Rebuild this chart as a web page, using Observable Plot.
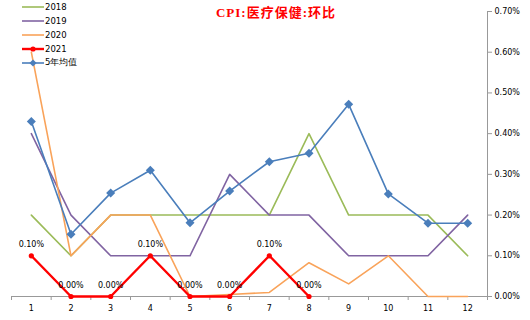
<!DOCTYPE html>
<html><head><meta charset="utf-8">
<script src="https://cdn.jsdelivr.net/npm/d3@7"></script>
<script src="https://cdn.jsdelivr.net/npm/@observablehq/plot@0.6"></script>
<style>
body{margin:0;background:#fff}
#wrap{position:relative;width:530px;height:320px;overflow:hidden}
#title{position:absolute;left:0;width:552px;top:2px;text-align:center;color:#ff0000;font:bold 13px "Liberation Serif","Noto Sans CJK SC",serif;letter-spacing:1px}
#legend{position:absolute;left:22px;top:0px;font:8.5px "DejaVu Sans",sans-serif;color:#000}
.row{display:flex;align-items:center;height:14px}
.row svg{display:block;margin-right:1px}
</style></head><body><div id="wrap"><div id="title">CPI:医疗保健:环比</div><div id="legend"></div></div>
<script>
const months = [1,2,3,4,5,6,7,8,9,10,11,12];
const seriesNames = ["2018","2019","2020","2021","5年均值"];
const v2018 = [0.2,0.1,0.2,0.2,0.2,0.2,0.2,0.4,0.2,0.2,0.2,0.1];
const v2019 = [0.4,0.2,0.1,0.1,0.1,0.3,0.2,0.2,0.1,0.1,0.1,0.2];
const v2020 = [0.6,0.1,0.2,0.2,0.0,0.005,0.01,0.083,0.031,0.1,0.0,0.0];
const v2021 = [0.1,0.0,0.0,0.1,0.0,0.0,0.1,0.0];
const vAvg  = [0.43,0.153,0.254,0.31,0.181,0.259,0.331,0.352,0.472,0.252,0.18,0.18];
const yTicks = [0,0.1,0.2,0.3,0.4,0.5,0.6,0.7];
const colors = ["#9bbb59","#8064a2","#f9a35a","#ff0000","#4a7ebb"];

const allVals = [v2018,v2019,v2020,v2021,vAvg];
const data = [];
allVals.forEach((arr,i)=>arr.forEach((v,j)=>data.push({series:seriesNames[i],month:months[j],value:v})));
const sel = s => data.filter(d=>d.series===s);
const fmt = d => d.toFixed(2)+"%";
const bounds = d3.range(0.5,13,1);
const squareDiamond = {draw(ctx,size){const r=Math.sqrt(size/2);ctx.moveTo(0,-r);ctx.lineTo(r,0);ctx.lineTo(0,r);ctx.lineTo(-r,0);ctx.closePath();}};

const chart = Plot.plot({
  width:530, height:320,
  marginLeft:11, marginRight:43, marginTop:11, marginBottom:24,
  style:{fontFamily:"DejaVu Sans, sans-serif", fontSize:"8px", background:"#fff", color:"#000"},
  x:{type:"linear", domain:[0.5,12.5]},
  y:{domain:[0,0.7]},
  marks:[
    Plot.ruleY([0],{stroke:"#999",strokeWidth:1}),
    Plot.ruleX([12.5],{stroke:"#999",strokeWidth:1}),
    Plot.axisY({anchor:"right",ticks:yTicks,tickSize:4,tickPadding:3,tickFormat:fmt,label:null,stroke:"#999",fontSize:8}),
    Plot.axisX({ticks:months,tickSize:0,tickPadding:9,tickFormat:d=>String(d),label:null,fontSize:8}),
    Plot.axisX({ticks:bounds,tickSize:4,tickFormat:()=>"",label:null,stroke:"#999"}),
    Plot.line(sel("2018"),{x:"month",y:"value",stroke:colors[0],strokeWidth:1.6}),
    Plot.line(sel("2019"),{x:"month",y:"value",stroke:colors[1],strokeWidth:1.6}),
    Plot.line(sel("2020"),{x:"month",y:"value",stroke:colors[2],strokeWidth:1.6}),
    Plot.line(sel("5年均值"),{x:"month",y:"value",stroke:colors[4],strokeWidth:1.6}),
    Plot.dot(sel("5年均值"),{x:"month",y:"value",symbol:squareDiamond,r:3.6,fill:colors[4]}),
    Plot.line(sel("2021"),{x:"month",y:"value",stroke:colors[3],strokeWidth:2.4}),
    Plot.dot(sel("2021"),{x:"month",y:"value",r:2.6,fill:colors[3]}),
    Plot.text(sel("2021"),{x:"month",y:"value",text:d=>fmt(d.value),dy:-11,fontSize:8,fill:"#000"})
  ]
});
document.getElementById("wrap").prepend(chart);
chart.style.position="absolute"; chart.style.left="0"; chart.style.top="0";

const legend = document.getElementById("legend");
seriesNames.forEach((s,i)=>{
  const row = document.createElement("div"); row.className="row";
  let marker = "";
  if(i===3) marker = `<circle cx="11" cy="5" r="2.6" fill="${colors[3]}"/>`;
  if(i===4) marker = `<path d="M11 1.4 L14.6 5 L11 8.6 L7.4 5 Z" fill="${colors[4]}"/>`;
  row.innerHTML = `<svg width="22" height="10"><line x1="0" x2="22" y1="5" y2="5" stroke="${colors[i]}" stroke-width="${i===3?2.4:1.6}"/>${marker}</svg><span>${s}</span>`;
  legend.appendChild(row);
});
</script>
</body></html>
